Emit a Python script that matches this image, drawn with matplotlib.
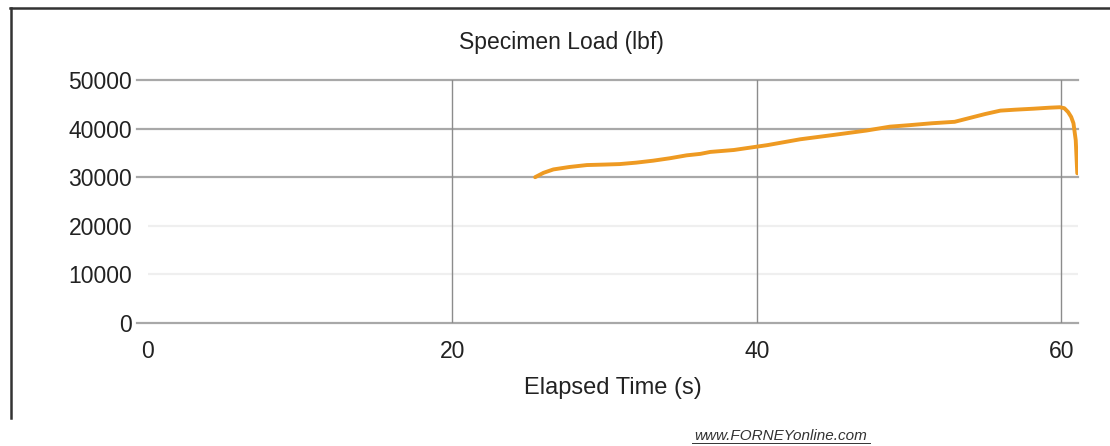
import matplotlib.pyplot as plt
from matplotlib.lines import Line2D

plt.rcParams['font.family'] = ['Liberation Sans', 'DejaVu Sans']

# specimen load curve
time_s = [25.45, 26.0, 26.65, 27.7, 28.85, 30.0, 31.0, 32.1, 33.2, 34.3, 35.4,
          36.3, 36.95, 38.5, 40.7, 42.85, 45.05, 47.2, 48.75, 50.0, 51.5,
          53.0, 54.0, 55.0, 56.0, 57.0, 58.2, 59.2, 59.9, 60.2, 60.45,
          60.65, 60.8, 60.95, 61.05]
load_lbf = [30000, 30900, 31600, 32100, 32500, 32600, 32700, 33000, 33400,
            33900, 34500, 34800, 35200, 35600, 36600, 37800, 38700, 39600,
            40400, 40700, 41100, 41400, 42200, 43000, 43700, 43900, 44100,
            44300, 44400, 44200, 43400, 42400, 41100, 37600, 30800]

y_ticks = [0, 10000, 20000, 30000, 40000, 50000]
x_ticks = [0, 20, 40, 60]
faint_y = [10000, 20000]

fig = plt.figure(figsize=(11.1, 4.46), dpi=100)
ax = fig.add_axes([0.1329, 0.2758, 0.8383, 0.5448])

ax.plot(time_s, load_lbf, color='#ee9a22', lw=2.8, solid_capstyle='round')

ax.set_xlim(0, 61.1)
ax.set_ylim(0, 50000)
ax.set_yticks(y_ticks)
ax.set_xticks(x_ticks)

# gridlines stick out a little to the left, like tick marks
for v in y_ticks:
    if v in faint_y:
        ax.axhline(v, color='#efefef', lw=1.6, zorder=0)
    else:
        ax.axhline(v, xmin=-0.011, color='#a8a8a8', lw=1.6, zorder=0,
                   clip_on=False)
for v in x_ticks[1:]:
    ax.axvline(v, color='#8c8c8c', lw=1.0, zorder=0)

for s in ax.spines.values():
    s.set_visible(False)
ax.tick_params(axis='y', length=0, pad=11, labelsize=16.5, labelcolor='#222222')
ax.tick_params(axis='x', length=0, pad=12, labelsize=16.5, labelcolor='#222222')

ax.set_xlabel('Elapsed Time (s)', fontsize=17, color='#222222', labelpad=10)
fig.text(0.506, 1 - 42 / 446, 'Specimen Load (lbf)', fontsize=16.5,
         color='#222222', ha='center', va='center')

# page frame
fig.add_artist(Line2D([10 / 1110, 1.0], [1 - 8 / 446, 1 - 8 / 446],
                      color='#333333', lw=1.8))
fig.add_artist(Line2D([11 / 1110, 11 / 1110], [1 - 8 / 446, 1 - 418 / 446],
                      color='#333333', lw=1.8))

fig.text(781 / 1110, 1 - 436 / 446, 'www.FORNEYonline.com', fontsize=11,
         style='italic', color='#333333', ha='center', va='center')
fig.add_artist(Line2D([692 / 1110, 870 / 1110], [1 - 443 / 446, 1 - 443 / 446],
                      color='#333333', lw=0.7))

fig.savefig('out.png', dpi=100, facecolor='white')
